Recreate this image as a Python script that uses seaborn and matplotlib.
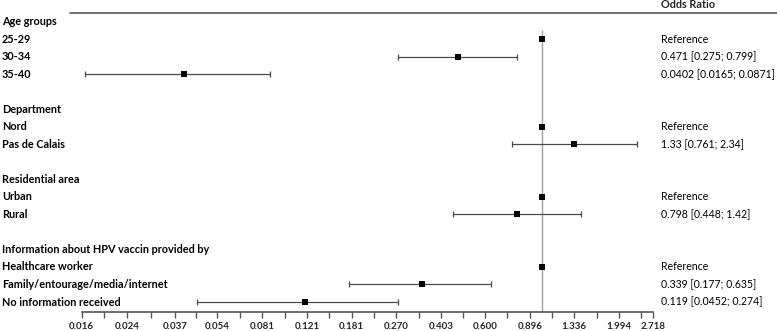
import numpy as np
import pandas as pd
import matplotlib.pyplot as plt
import seaborn as sns
from matplotlib.ticker import NullFormatter
from matplotlib.transforms import blended_transform_factory
from matplotlib.lines import Line2D

# rows of the forest plot (None = header / blank)
row_labels = ["Age groups", "25-29", "30-34", "35-40", "",
              "Department", "Nord", "Pas de Calais", "",
              "Residential area", "Urban", "Rural", "",
              "Information about HPV vaccin provided by", "Healthcare worker",
              "Family/entourage/media/internet", "No information received"]
odds = [None, 1.0, 0.471, 0.0402, None,
        None, 1.0, 1.33, None,
        None, 1.0, 0.798, None,
        None, 1.0, 0.339, 0.119]
ci_low = [None, None, 0.275, 0.0165, None,
          None, None, 0.761, None,
          None, None, 0.448, None,
          None, None, 0.177, 0.0452]
ci_high = [None, None, 0.799, 0.0871, None,
           None, None, 2.34, None,
           None, None, 1.42, None,
           None, None, 0.635, 0.274]
or_text = ["", "Reference", "0.471 [0.275; 0.799]", "0.0402 [0.0165; 0.0871]", "",
           "", "Reference", "1.33 [0.761; 2.34]", "",
           "", "Reference", "0.798 [0.448; 1.42]", "",
           "", "Reference", "0.339 [0.177; 0.635]", "0.119 [0.0452; 0.274]"]
tick_labels = ["0.016", "0.024", "0.037", "0.054", "0.081", "0.121", "0.181",
               "0.270", "0.403", "0.600", "0.896", "1.336", "1.994", "2.718"]

df = pd.DataFrame({"label": row_labels, "odds": odds, "lo": ci_low, "hi": ci_high})
df["row"] = np.arange(len(df))
pts = df.dropna(subset=["odds"])
cis = df.dropna(subset=["lo"])

sns.set_theme(style="white")
plt.rcParams["font.family"] = ["Lato", "DejaVu Sans"]

W, H = 777, 331
fig = plt.figure(figsize=(W / 100, H / 100), dpi=100)
ax = fig.add_axes([81.7 / W, 1 - 312 / H, (653.3 - 81.7) / W, (312 - 13) / H])

ax.set_xscale("log")
ax.errorbar(cis["odds"], cis["row"],
            xerr=[cis["odds"] - cis["lo"], cis["hi"] - cis["odds"]],
            fmt="none", ecolor="#4a4a4a", elinewidth=0.9, capsize=2.2, capthick=0.9)
sns.scatterplot(data=pts, x="odds", y="row", marker="s", color="black",
                s=14, linewidth=0, ax=ax, zorder=3)
ax.vlines(1.0, 0.46, 16.57, color="#a0a0a0", linewidth=1.0, zorder=1)

tick_vals = [float(t) for t in tick_labels]
ax.set_xlim(tick_vals[0], tick_vals[-1])
ax.set_ylim(16.57, -0.5)
ax.set_xticks(tick_vals)
ax.set_xticklabels(tick_labels, fontsize=7, fontweight="bold")
minor = [np.sqrt(a * b) for a, b in zip(tick_vals[:-2], tick_vals[1:-1])]
minor.append(np.sqrt(tick_vals[-2] * np.exp(np.log(tick_vals[-2]) + 0.4)))
ax.set_xticks(minor, minor=True)
ax.xaxis.set_minor_formatter(NullFormatter())
ax.tick_params(axis="x", which="both", direction="out", length=4, width=1,
               color="#555555", bottom=True, pad=3)
ax.set_yticks([])
ax.set_xlabel("")
ax.set_ylabel("")
for s in ["top", "left", "right"]:
    ax.spines[s].set_visible(False)
ax.spines["bottom"].set_color("#555555")
ax.spines["bottom"].set_linewidth(1.2)

tr = blended_transform_factory(fig.transFigure, ax.transData)
for i, (lab, txt) in enumerate(zip(row_labels, or_text)):
    ax.text(2 / W, i, lab, transform=tr, ha="left", va="center",
            fontsize=7.8, fontweight="bold", color="black")
    ax.text(661 / W, i, txt, transform=tr, ha="left", va="center",
            fontsize=7.6, color="black")

fig.text(661 / W, 1 - 5 / H, "Odds Ratio", ha="left", va="center",
         fontsize=7.8, fontweight="bold")
fig.add_artist(Line2D([70 / W, 1.0], [1 - 13 / H, 1 - 13 / H],
                      color="#555555", linewidth=1.2))

fig.savefig("out.png", dpi=100)
